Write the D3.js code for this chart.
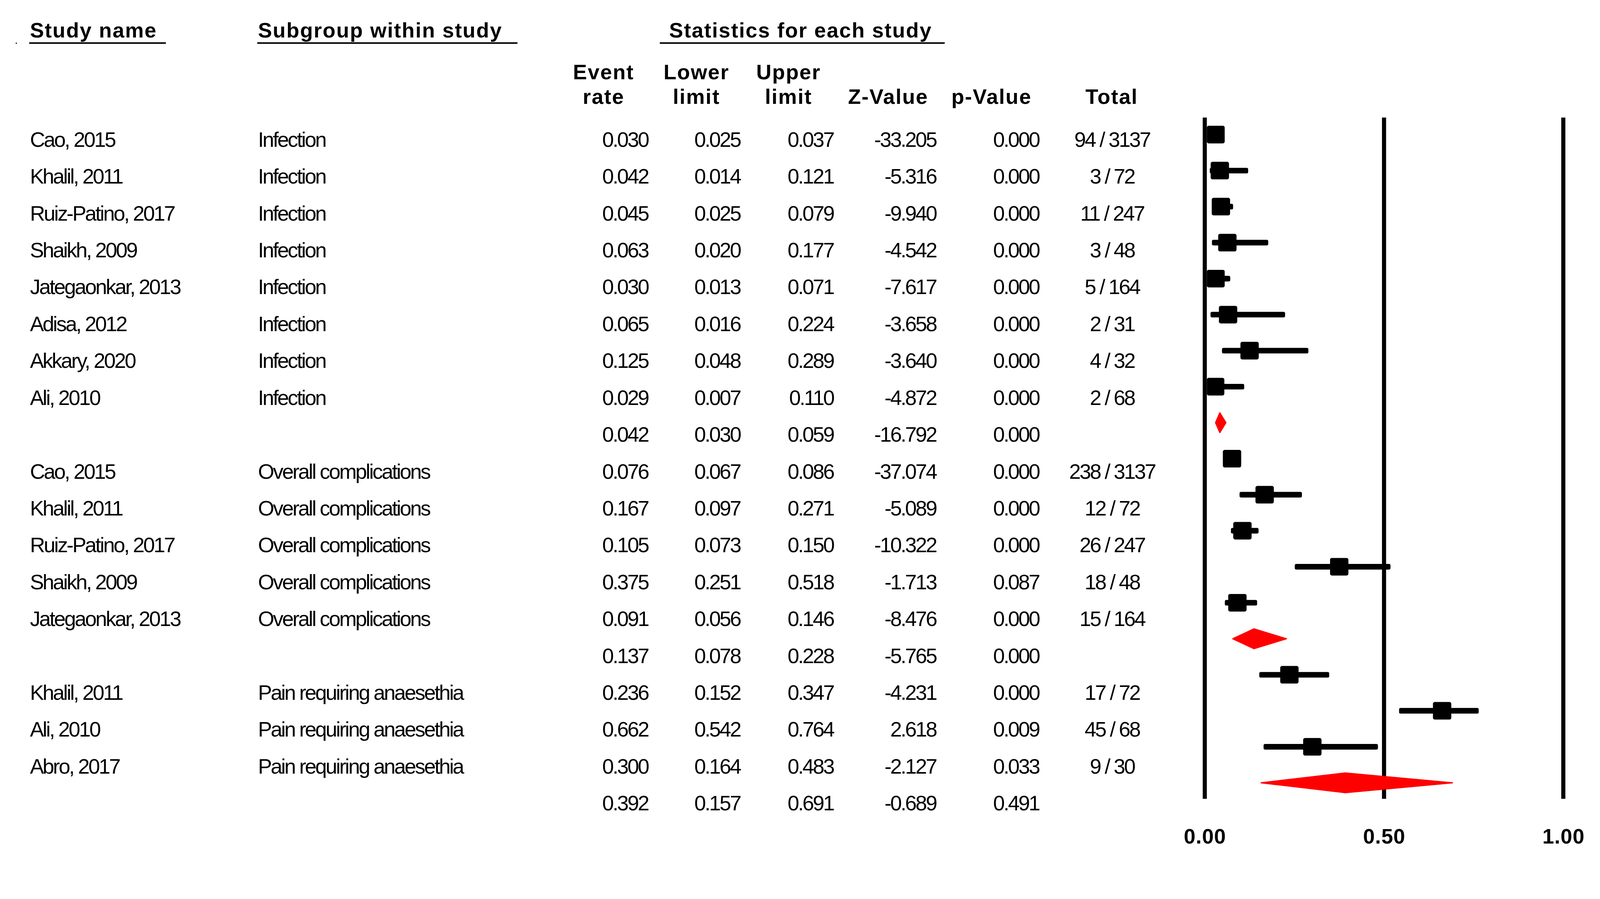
<!DOCTYPE html>
<html>
<head>
<meta charset="utf-8">
<script src="https://cdn.jsdelivr.net/npm/d3@7"></script>
<style>
  html, body { margin: 0; padding: 0; background: #fff; overflow: hidden; }
  svg { display: block; width: 100vw; height: 100vh; }
  text { font-family: "Liberation Sans", Arial, sans-serif; fill: #000; }
</style>
</head>
<body>
<svg id="chart" viewBox="0 0 4273 2302" preserveAspectRatio="xMidYMin meet"></svg>
<script>
// Study rows (summary rows have an empty name)
const studyNames = [
  "Cao, 2015", "Khalil, 2011", "Ruiz-Patino, 2017", "Shaikh, 2009", "Jategaonkar, 2013",
  "Adisa, 2012", "Akkary, 2020", "Ali, 2010", "",
  "Cao, 2015", "Khalil, 2011", "Ruiz-Patino, 2017", "Shaikh, 2009", "Jategaonkar, 2013", "",
  "Khalil, 2011", "Ali, 2010", "Abro, 2017", ""
];
const subgroups = [
  "Infection", "Infection", "Infection", "Infection", "Infection", "Infection", "Infection", "Infection", "",
  "Overall complications", "Overall complications", "Overall complications", "Overall complications", "Overall complications", "",
  "Pain requiring anaesethia", "Pain requiring anaesethia", "Pain requiring anaesethia", ""
];
const eventRates  = [0.030, 0.042, 0.045, 0.063, 0.030, 0.065, 0.125, 0.029, 0.042,
                     0.076, 0.167, 0.105, 0.375, 0.091, 0.137,
                     0.236, 0.662, 0.300, 0.392];
const lowerLimits = [0.025, 0.014, 0.025, 0.020, 0.013, 0.016, 0.048, 0.007, 0.030,
                     0.067, 0.097, 0.073, 0.251, 0.056, 0.078,
                     0.152, 0.542, 0.164, 0.157];
const upperLimits = [0.037, 0.121, 0.079, 0.177, 0.071, 0.224, 0.289, 0.110, 0.059,
                     0.086, 0.271, 0.150, 0.518, 0.146, 0.228,
                     0.347, 0.764, 0.483, 0.691];
const zValues     = [-33.205, -5.316, -9.940, -4.542, -7.617, -3.658, -3.640, -4.872, -16.792,
                     -37.074, -5.089, -10.322, -1.713, -8.476, -5.765,
                     -4.231, 2.618, -2.127, -0.689];
const pValues     = [0.000, 0.000, 0.000, 0.000, 0.000, 0.000, 0.000, 0.000, 0.000,
                     0.000, 0.000, 0.000, 0.087, 0.000, 0.000,
                     0.000, 0.009, 0.033, 0.491];
const totals      = ["94 / 3137", "3 / 72", "11 / 247", "3 / 48", "5 / 164", "2 / 31", "4 / 32", "2 / 68", "",
                     "238 / 3137", "12 / 72", "26 / 247", "18 / 48", "15 / 164", "",
                     "17 / 72", "45 / 68", "9 / 30", ""];
const isSummary   = [0,0,0,0,0,0,0,0,1, 0,0,0,0,0,1, 0,0,0,1];
const axisTicks   = [0, 0.5, 1];

const rows = studyNames.map((name, i) => ({
  name, sub: subgroups[i], est: eventRates[i], lo: lowerLimits[i], hi: upperLimits[i],
  z: zValues[i], p: pValues[i], total: totals[i], summary: isSummary[i] === 1, i
}));

const svg = d3.select("#chart");

// Scales
const textY = d3.scaleLinear().domain([0, 1]).range([392, 490.5]);   // text baselines
const plotY = d3.scaleLinear().domain([0, 1]).range([359.5, 455.7]); // marker centres
const x = d3.scaleLinear().domain([0, 1]).range([3217.5, 4175]);

const f3 = d3.format(".3f");

// Headers
const boldText = (sel) => sel.attr("font-weight", "bold").attr("font-size", 56).attr("letter-spacing", 2.2);

svg.append("rect").attr("x", 42).attr("y", 114).attr("width", 3).attr("height", 3).attr("fill", "#000");

const headers = [
  { t: "Study name", x: 80, ul: [78, 443] },
  { t: "Subgroup within study", x: 689, ul: [687, 1382] },
  { t: "Statistics for each study", x: 1787, ul: [1762, 2523] }
];
headers.forEach(h => {
  svg.append("text").attr("x", h.x).attr("y", 100).text(h.t).call(boldText);
  svg.append("line").attr("x1", h.ul[0]).attr("x2", h.ul[1]).attr("y1", 115).attr("y2", 115)
    .attr("stroke", "#000").attr("stroke-width", 4);
});

const colHeads = [
  { cx: 1612, l1: "Event", l2: "rate" },
  { cx: 1860, l1: "Lower", l2: "limit" },
  { cx: 2106, l1: "Upper", l2: "limit" },
  { cx: 2372, l1: "", l2: "Z-Value" },
  { cx: 2648, l1: "", l2: "p-Value" },
  { cx: 2969, l1: "", l2: "Total" }
];
colHeads.forEach(c => {
  if (c.l1) svg.append("text").attr("x", c.cx).attr("y", 212).attr("text-anchor", "middle").text(c.l1).call(boldText);
  svg.append("text").attr("x", c.cx).attr("y", 277).attr("text-anchor", "middle").text(c.l2).call(boldText);
});

// Table body
const plainText = (sel) => sel.attr("font-size", 56).attr("letter-spacing", -3.5);
const body = svg.append("g");
const cols = [
  { x: 80,   anchor: "start",  v: d => d.name },
  { x: 689,  anchor: "start",  v: d => d.sub },
  { x: 1731, anchor: "end",    v: d => f3(d.est) },
  { x: 1977, anchor: "end",    v: d => f3(d.lo) },
  { x: 2226, anchor: "end",    v: d => f3(d.hi) },
  { x: 2500, anchor: "end",    v: d => f3(d.z).replace("−", "-") },
  { x: 2775, anchor: "end",    v: d => f3(d.p) },
  { x: 2970, anchor: "middle", v: d => d.total }
];
cols.forEach(c => {
  body.selectAll(null).data(rows).join("text")
    .attr("x", c.x).attr("y", d => textY(d.i))
    .attr("text-anchor", c.anchor)
    .text(c.v)
    .call(plainText);
});

// Forest plot
const plot = svg.append("g");
plot.selectAll("line.ref").data(axisTicks).join("line")
  .attr("class", "ref")
  .attr("x1", d => x(d)).attr("x2", d => x(d))
  .attr("y1", 314).attr("y2", 2134)
  .attr("stroke", "#000").attr("stroke-width", 11);

const studies = rows.filter(d => !d.summary);
const summaries = rows.filter(d => d.summary);

plot.selectAll("rect.ci").data(studies).join("rect")
  .attr("class", "ci")
  .attr("x", d => x(d.lo)).attr("width", d => x(d.hi) - x(d.lo))
  .attr("y", d => plotY(d.i) - 7.5).attr("height", 15)
  .attr("rx", 4).attr("fill", "#000");

const sqLeft = d => Math.max(x(d.est) - 24.5, x(0) + 5.5);
plot.selectAll("rect.pt").data(studies).join("rect")
  .attr("class", "pt")
  .attr("x", sqLeft).attr("width", d => x(d.est) + 24.5 - sqLeft(d))
  .attr("y", d => plotY(d.i) - 23.5).attr("height", 47)
  .attr("rx", 5).attr("fill", "#000");

plot.selectAll("path.diamond").data(summaries).join("path")
  .attr("class", "diamond")
  .attr("d", d => {
    const cy = plotY(d.i), h = 26.5;
    return `M${x(d.lo)},${cy}L${x(d.est)},${cy - h}L${x(d.hi)},${cy}L${x(d.est)},${cy + h}Z`;
  })
  .attr("fill", "#ff0000").attr("stroke", "#ff0000").attr("stroke-width", 3).attr("stroke-linejoin", "round");

// Axis labels
const axis = d3.axisBottom(x).tickValues(axisTicks).tickFormat(d3.format(".2f")).tickSize(0);
const ag = svg.append("g").attr("transform", "translate(0,2253)").call(axis);
ag.select(".domain").remove();
ag.selectAll("text")
  .attr("y", 0).attr("dy", 0)
  .attr("font-family", "Liberation Sans, Arial, sans-serif")
  .attr("font-size", 56).attr("font-weight", "bold").attr("letter-spacing", 1)
  .attr("fill", "#000");
</script>
</body>
</html>
